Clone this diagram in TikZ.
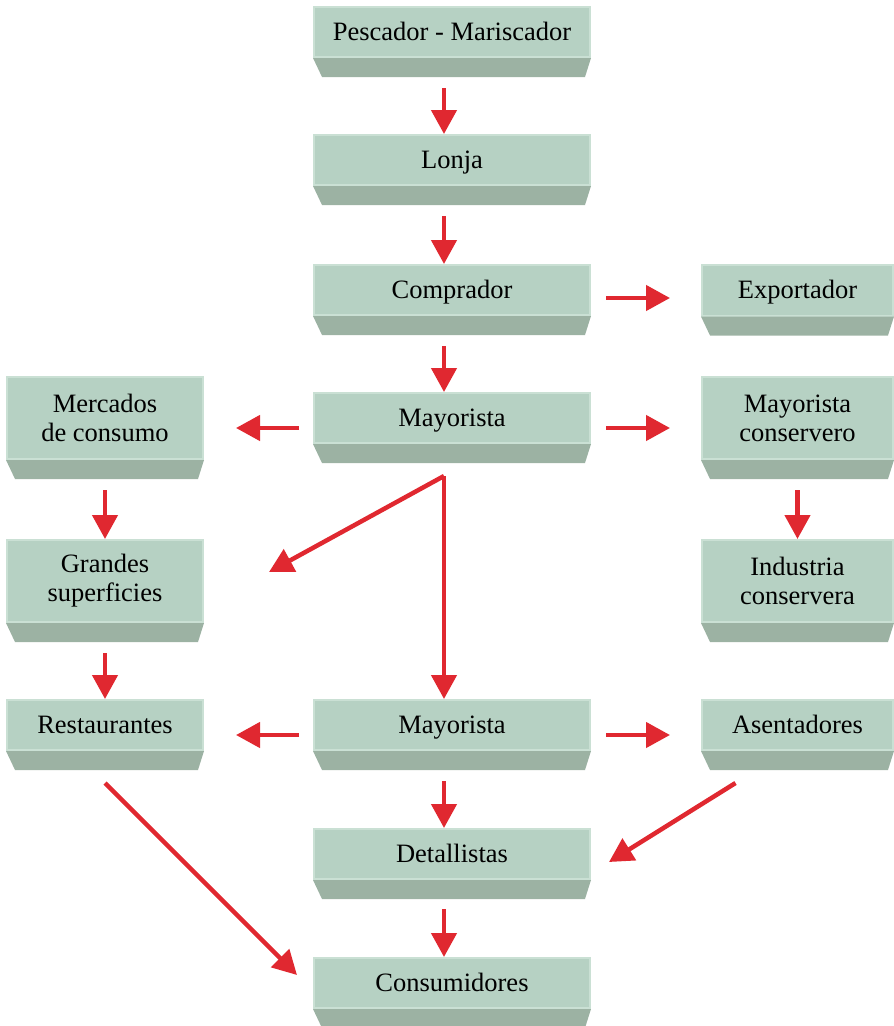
\documentclass[tikz,border=0pt]{standalone}
\usepackage{fontspec}
\setmainfont{Liberation Serif}
\usetikzlibrary{arrows.meta,calc}
\definecolor{boxface}{RGB}{182,209,195}
\definecolor{boxedge}{RGB}{202,224,212}
\definecolor{boxbase}{RGB}{156,178,163}
\definecolor{flowred}{RGB}{224,40,48}
\tikzset{
  stage/.style={rectangle, fill=boxface, draw=boxedge, line width=2pt,
    inner sep=0pt, align=center, text=black,
    font=\fontsize{26.5}{29}\selectfont},
  % fixed strut so single-line labels sit at the same height
  oneline/.style={execute at begin node={\rule[-8pt]{0pt}{32pt}}},
  mid/.style={stage, oneline, minimum width=276pt, minimum height=50pt},
  side/.style={stage, minimum width=196pt},
  rside/.style={stage, minimum width=191pt},
  flow/.style={draw=flowred, line width=4.5pt,
    -{Triangle[length=24pt,width=25pt]}},
}
% sloped base under each box
\newcommand\shelf[1]{%
  \fill[boxbase] (#1.south west) -- (#1.south east) -- ++(-6,19)
    -- ($(#1.south west)+(9,19)$) -- cycle;}
\begin{document}
\begin{tikzpicture}[x=1pt,y=-1pt]
\useasboundingbox (0,0) rectangle (894,1026);

% centre column
\node[mid] (pesc) at (452,32)  {Pescador - Mariscador};
\node[mid] (lonja) at (452,160) {Lonja};
\node[mid] (comp) at (452,290) {Comprador};
\node[mid] (may1) at (452,418) {Mayorista};
\node[mid] (may2) at (452,725) {Mayorista};
\node[mid] (det) at (452,854) {Detallistas};
\node[mid] (cons) at (452,983) {Consumidores};

% left column
\node[side, minimum height=82pt] (merc) at (105,418) {Mercados\\de consumo};
\node[side, minimum height=82pt] (gs) at (105,581) {Grandes\\superficies};
\node[side, oneline, minimum height=50pt] (rest) at (105,725) {Restaurantes};

% right column
\node[rside, oneline, minimum height=51pt] (exp) at (797.5,290) {Exportador};
\node[rside, minimum height=82pt] (mcons) at (797.5,418) {Mayorista\\conservero};
\node[rside, minimum height=82pt] (ind) at (797.5,581) {Industria\\conservera};
\node[rside, oneline, minimum height=50pt] (asen) at (797.5,725) {Asentadores};

\foreach \n in {pesc,lonja,comp,may1,may2,det,cons,merc,gs,rest,exp,mcons,ind,asen}
  {\shelf{\n}}

% vertical flows in the centre column
\draw[flow] ([xshift=-8pt,yshift=-30pt]pesc.south) -- ([xshift=-8pt]lonja.north);
\draw[flow] ([xshift=-8pt,yshift=-30pt]lonja.south) -- ([xshift=-8pt]comp.north);
\draw[flow] ([xshift=-8pt,yshift=-30pt]comp.south) -- ([xshift=-8pt]may1.north);
\draw[flow] ([xshift=-8pt,yshift=-30pt]may2.south) -- ([xshift=-8pt]det.north);
\draw[flow] ([xshift=-8pt,yshift=-29pt]det.south) -- ([xshift=-8pt]cons.north);

% sideways flows
\draw[flow] ([xshift=15pt,yshift=-8pt]comp.east) -- ([xshift=-31pt,yshift=-8pt]exp.west);
\draw[flow] ([xshift=-14pt,yshift=-10pt]may1.west) -- ([xshift=32pt,yshift=-10pt]merc.east);
\draw[flow] ([xshift=15pt,yshift=-10pt]may1.east) -- ([xshift=-31pt,yshift=-10pt]mcons.west);
\draw[flow] ([xshift=-14pt,yshift=-10pt]may2.west) -- ([xshift=32pt,yshift=-10pt]rest.east);
\draw[flow] ([xshift=15pt,yshift=-10pt]may2.east) -- ([xshift=-31pt,yshift=-10pt]asen.west);

% side columns
\draw[flow] ([yshift=-30pt]merc.south) -- (gs.north);
\draw[flow] ([yshift=-30pt]gs.south) -- (rest.north);
\draw[flow] ([yshift=-30pt]mcons.south) -- (ind.north);

% split below the first wholesaler
\coordinate (split) at ([xshift=-8pt,yshift=-32pt]may1.south);
\draw[flow] (split) -- ($(gs.east)+(65,-9)$);
\draw[flow] (split) -- ([xshift=-8pt]may2.north);

% diagonal flows
\draw[flow] ($(asen.south)+(-62,32)$) -- ($(det.east)+(18,8)$);
\draw[flow] ($(rest.south)+(0,32)$) -- ($(cons.west)+(-16,-8)$);
\end{tikzpicture}
\end{document}
